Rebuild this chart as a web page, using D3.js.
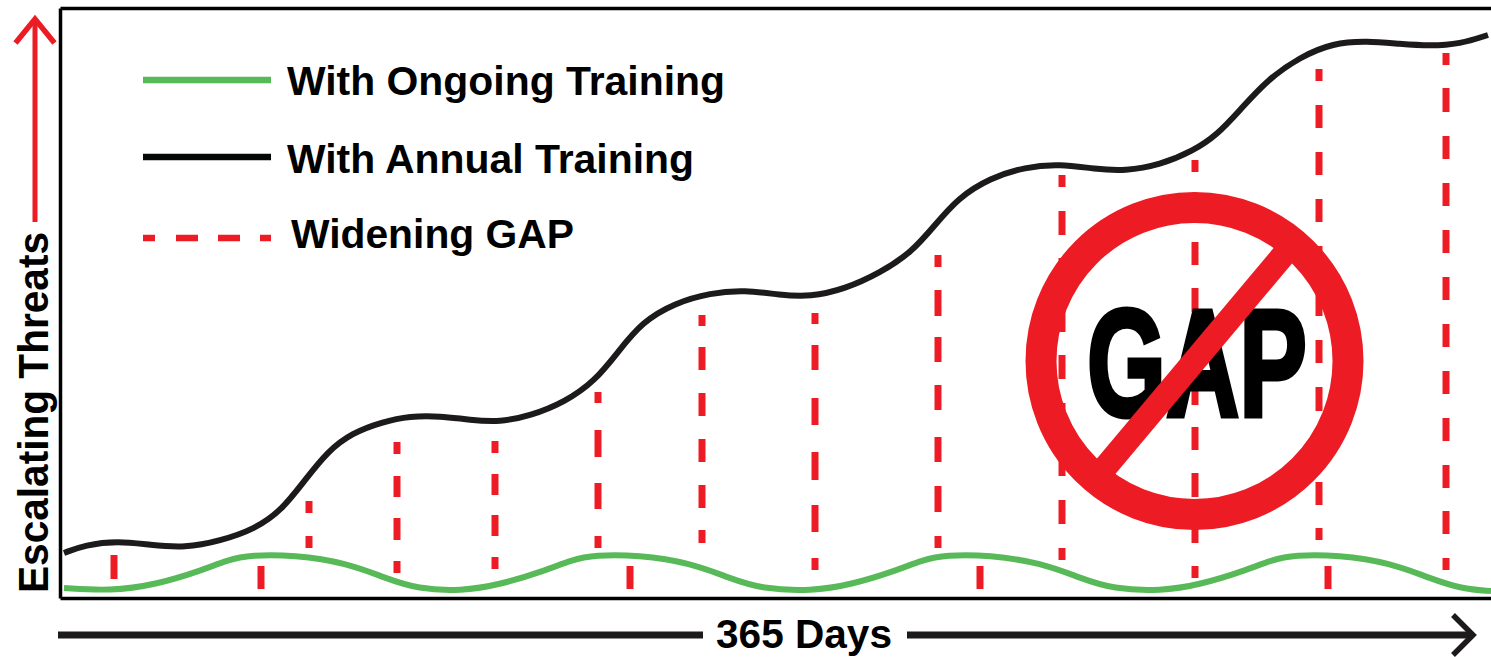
<!DOCTYPE html>
<html>
<head>
<meta charset="utf-8">
<style>
  html, body { margin: 0; padding: 0; background: #fff; overflow: hidden; }
  svg { display: block; }
  text { font-family: "Liberation Sans", Arial, sans-serif; font-weight: 700; fill: #000; }
</style>
<script src="https://d3js.org/d3.v7.min.js"></script>
</head>
<body>
<svg id="chart" width="1491" height="657"></svg>
<script>
// Curves as [position along the year, threat level] in unitless chart units.
const annualTraining = [[4,45],[25,53],[58,57],[90,53],[125,50],[160,57],[195,69],[222,88],[245,118],[268,147],[292,165],[322,176],[350,182],[380,182],[410,178],[440,176],[470,182],[505,196],[535,217],[558,246],[582,276],[615,295],[650,305],[685,308],[720,303],[750,301],[785,309],[820,325],[852,346],[875,373],[898,400],[930,420],[965,431],[1000,434],[1035,429],[1065,427],[1100,433],[1133,447],[1157,463],[1180,488],[1207,518],[1240,541],[1273,555],[1307,557],[1340,554],[1370,552],[1400,554],[1428,563]];
const ongoingTraining = [[4,10],[50,7],[95,13],[143,28],[167,38],[191,43],[234,43],[287,35],[325,20],[358,9],[401,7],[439,13],[487,28],[511,38],[535,43],[578,43],[631,35],[669,20],[702,9],[752,7],[790,13],[838,28],[862,38],[886,43],[929,43],[982,35],[1020,20],[1053,9],[1101,7],[1139,13],[1187,28],[1211,38],[1235,43],[1278,43],[1331,35],[1369,20],[1402,9],[1431,7]];

// Gap markers: position along the year, and the [low, high] threat span of each dash.
const gapPositions = [54,201,249,337,435,538,570,642,755,878,920,1002,1135,1259,1268,1386];
const gapDashes = [
  [[19,43]],
  [[9,32]],
  [[50,62],[85,97]],
  [[25,37],[58,80],[101,122],[144,156]],
  [[29,41],[62,83],[103,124],[145,157]],
  [[50,62],[89,115],[141,168],[195,206]],
  [[9,32]],
  [[55,68],[90,113],[136,159],[182,205],[228,251],[272,283]],
  [[28,40],[66,93],[118,146],[173,200],[228,253],[274,285]],
  [[50,62],[86,112],[136,161],[188,213],[236,261],[282,308],[331,343]],
  [[9,32]],
  [[38,50],[74,98],[122,146],[171,195],[219,243],[266,290],[316,340],[363,387],[411,423]],
  [[20,32],[55,78],[101,125],[148,171],[193,216],[240,263],[286,310],[333,356],[380,403],[426,438]],
  [[58,70],[93,116],[140,164],[187,211],[235,258],[282,305],[329,352],[376,399],[423,446],[470,493],[517,529]],
  [[9,32]],
  [[28,40],[64,87],[110,133],[157,180],[204,227],[251,274],[298,321],[345,368],[392,415],[439,462],[486,510],[533,545]]
];

const legendLabels = ["With Ongoing Training", "With Annual Training", "Widening GAP"];
const yAxisLabel = "Escalating Threats";
const xAxisLabel = "365 Days";
const stampLabel = "GAP";

const GREEN = "#57b957", INK = "#1c1a1b", RED = "#ed1c24";

const svg = d3.select("#chart");
const x = d3.scaleLinear().domain([0, 1431]).range([60, 1491]);
const y = d3.scaleLinear().domain([0, 590]).range([598, 8]);

// Frame: open on the right, no tick marks.
[[d3.axisBottom(x), 0, 598], [d3.axisTop(x), 0, 8], [d3.axisLeft(y), 60, 0]].forEach(([axis, tx, ty]) => {
  const g = svg.append("g").attr("transform", `translate(${tx},${ty})`)
    .call(axis.tickValues([]).tickSizeOuter(0));
  g.select(".domain").attr("stroke", "#000").attr("stroke-width", 3.5);
});

// Red dashes between the curves
const columns = svg.append("g").selectAll("g").data(gapPositions).join("g");
columns.selectAll("line")
  .data((d, i) => gapDashes[i].map(span => ({ pos: d, span })))
  .join("line")
  .attr("x1", d => x(d.pos)).attr("x2", d => x(d.pos))
  .attr("y1", d => y(d.span[0])).attr("y2", d => y(d.span[1]))
  .attr("stroke", RED).attr("stroke-width", 7);

const line = d3.line().x(d => x(d[0])).y(d => y(d[1])).curve(d3.curveBasis);
svg.append("path").attr("d", line(annualTraining)).attr("fill", "none").attr("stroke", INK).attr("stroke-width", 6);
svg.append("path").attr("d", line(ongoingTraining)).attr("fill", "none").attr("stroke", GREEN).attr("stroke-width", 6);

// Legend
const legendRows = [
  { y: 80, base: 95, tx: 287, w: 438, stroke: GREEN },
  { y: 157, base: 173, tx: 287, w: 407, stroke: "#060808" },
  { y: 238, base: 248, tx: 291, w: 283, stroke: RED, dash: "12 21 22 20 22 20 13" }
];
legendRows.forEach((r, i) => {
  svg.append("line").attr("x1", 143).attr("x2", 271).attr("y1", r.y).attr("y2", r.y)
    .attr("stroke", r.stroke).attr("stroke-width", 6.5).attr("stroke-dasharray", r.dash || null);
  svg.append("text").attr("x", r.tx).attr("y", r.base).attr("font-size", 41)
    .attr("textLength", r.w).attr("lengthAdjust", "spacingAndGlyphs").text(legendLabels[i]);
});

// Vertical axis title and its arrow
svg.append("text").attr("transform", "translate(47.5,593) rotate(-90)")
  .attr("font-size", 43).attr("textLength", 361).attr("lengthAdjust", "spacingAndGlyphs").text(yAxisLabel);
svg.append("line").attr("x1", 35).attr("x2", 35).attr("y1", 222).attr("y2", 20).attr("stroke", RED).attr("stroke-width", 5);
svg.append("path").attr("d", "M15.5,43L35,19L54.5,43").attr("fill", "none").attr("stroke", RED).attr("stroke-width", 5.5);

// Horizontal axis title and its arrow
svg.append("line").attr("x1", 58).attr("x2", 703).attr("y1", 635).attr("y2", 635).attr("stroke", INK).attr("stroke-width", 7);
svg.append("line").attr("x1", 907).attr("x2", 1472).attr("y1", 635).attr("y2", 635).attr("stroke", INK).attr("stroke-width", 7);
svg.append("path").attr("d", "M1453,615L1473,635L1453,655").attr("fill", "none").attr("stroke", INK).attr("stroke-width", 5.5);
svg.append("text").attr("x", 716).attr("y", 648).attr("font-size", 41)
  .attr("textLength", 176).attr("lengthAdjust", "spacingAndGlyphs").text(xAxisLabel);

// Prohibition stamp over the gap
svg.append("text").attr("x", 1087).attr("y", 416).attr("font-size", 153)
  .style("font-family", "'Liberation Sans Narrow', 'Liberation Sans', sans-serif")
  .attr("stroke", "#000").attr("stroke-width", 5).attr("stroke-linejoin", "miter")
  .attr("textLength", 220).attr("lengthAdjust", "spacingAndGlyphs").text(stampLabel);
svg.append("circle").attr("cx", 1194.5).attr("cy", 361).attr("r", 153.5)
  .attr("fill", "none").attr("stroke", RED).attr("stroke-width", 31);
svg.append("line").attr("x1", 1098).attr("y1", 476).attr("x2", 1291).attr("y2", 246)
  .attr("stroke", RED).attr("stroke-width", 24);
</script>
</body>
</html>
